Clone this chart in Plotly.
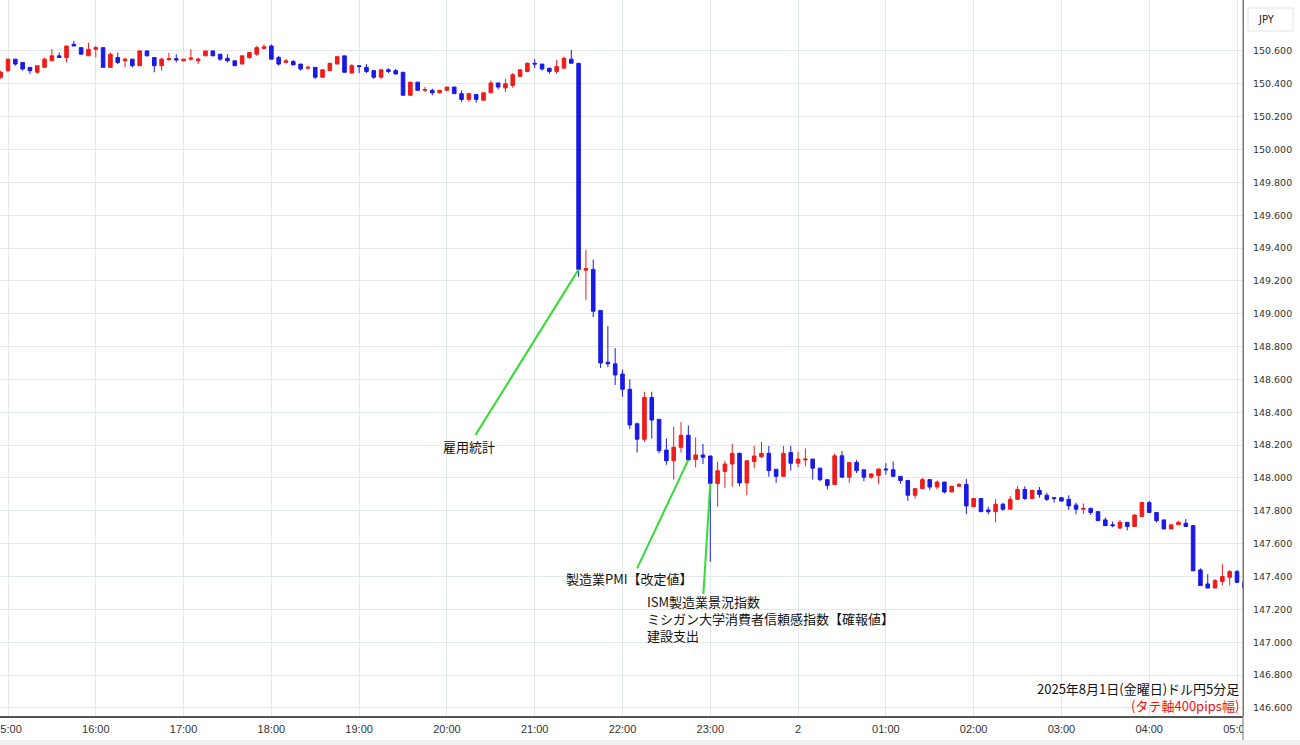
import pandas as pd
import plotly.graph_objects as go

# ---------------- data (USD/JPY 5-minute candles) ----------------
start_time = "2025-08-01 14:55"
open_ = [150.44, 150.48, 150.55, 150.53, 150.50, 150.47, 150.50, 150.54, 150.57, 150.56,
         150.64, 150.62, 150.57, 150.61, 150.62, 150.50, 150.56, 150.54, 150.55, 150.51,
         150.60, 150.56, 150.51, 150.547, 150.553, 150.54, 150.55, 150.54, 150.57, 150.60,
         150.58, 150.555, 150.54, 150.52, 150.56, 150.58, 150.615, 150.63, 150.56, 150.53,
         150.535, 150.52, 150.495, 150.50, 150.44, 150.48, 150.52, 150.57, 150.465, 150.51,
         150.50, 150.48, 150.44, 150.485, 150.48, 150.47, 150.33, 150.41, 150.36, 150.36,
         150.345, 150.36, 150.38, 150.34, 150.305, 150.335, 150.30, 150.345, 150.405, 150.375,
         150.39, 150.445, 150.475, 150.525, 150.52, 150.495, 150.475, 150.495, 150.55, 150.525,
         149.265, 149.27, 149.02, 148.705, 148.695, 148.633, 148.54, 148.33, 148.236, 148.49,
         148.357, 148.17, 148.105, 148.187, 148.26, 148.113, 148.14, 148.134, 147.967, 148.04,
         148.085, 148.15, 147.97, 148.10, 148.13, 148.15, 148.053, 148.01, 148.155, 148.09,
         148.11, 148.115, 148.06, 147.99, 147.96, 148.135, 148.005, 148.095, 148.05, 148.005,
         148.015, 148.055, 148.05, 148.01, 147.985, 147.895, 147.935, 147.99, 147.945, 147.975,
         147.915, 147.95, 147.96, 147.825, 147.875, 147.805, 147.795, 147.84, 147.81, 147.87,
         147.93, 147.875, 147.925, 147.895, 147.88, 147.88, 147.87, 147.835, 147.81, 147.815,
         147.795, 147.745, 147.715, 147.695, 147.73, 147.705, 147.765, 147.85, 147.79, 147.745,
         147.69, 147.715, 147.725, 147.71, 147.44, 147.355, 147.33, 147.37, 147.395, 147.43,
         147.365]
high = [150.48, 150.55, 150.55, 150.53, 150.50, 150.51, 150.56, 150.61, 150.59, 150.63,
        150.66, 150.62, 150.65, 150.63, 150.62, 150.59, 150.59, 150.56, 150.55, 150.60,
        150.60, 150.56, 150.56, 150.59, 150.58, 150.55, 150.61, 150.56, 150.60, 150.60,
        150.58, 150.58, 150.54, 150.57, 150.59, 150.63, 150.64, 150.64, 150.57, 150.55,
        150.545, 150.52, 150.51, 150.50, 150.485, 150.525, 150.565, 150.57, 150.52, 150.51,
        150.52, 150.48, 150.49, 150.495, 150.49, 150.47, 150.41, 150.41, 150.38, 150.37,
        150.36, 150.38, 150.38, 150.36, 150.34, 150.335, 150.345, 150.42, 150.405, 150.43,
        150.465, 150.485, 150.53, 150.55, 150.52, 150.495, 150.545, 150.565, 150.605, 150.525,
        149.39, 149.33, 149.02, 148.925, 148.79, 148.66, 148.60, 148.337, 148.525, 148.525,
        148.357, 148.24, 148.313, 148.34, 148.32, 148.247, 148.207, 148.134, 148.10, 148.105,
        148.207, 148.155, 148.105, 148.195, 148.22, 148.195, 148.053, 148.195, 148.195, 148.16,
        148.18, 148.115, 148.06, 147.99, 148.15, 148.165, 148.095, 148.11, 148.05, 148.03,
        148.055, 148.09, 148.10, 148.01, 147.985, 147.935, 148.00, 147.99, 147.985, 147.975,
        147.95, 147.97, 147.995, 147.875, 147.875, 147.825, 147.87, 147.85, 147.89, 147.95,
        147.95, 147.925, 147.945, 147.91, 147.885, 147.885, 147.895, 147.85, 147.845, 147.82,
        147.795, 147.76, 147.735, 147.745, 147.73, 147.775, 147.855, 147.86, 147.79, 147.745,
        147.715, 147.74, 147.75, 147.71, 147.45, 147.415, 147.385, 147.475, 147.44, 147.44,
        147.365]
low = [150.43, 150.47, 150.51, 150.48, 150.46, 150.46, 150.50, 150.54, 150.56, 150.53,
       150.63, 150.58, 150.57, 150.56, 150.50, 150.50, 150.52, 150.50, 150.50, 150.51,
       150.57, 150.47, 150.48, 150.54, 150.53, 150.535, 150.54, 150.52, 150.57, 150.57,
       150.54, 150.53, 150.51, 150.52, 150.55, 150.57, 150.61, 150.55, 150.51, 150.525,
       150.515, 150.48, 150.485, 150.43, 150.44, 150.48, 150.52, 150.47, 150.465, 150.465,
       150.465, 150.43, 150.43, 150.465, 150.455, 150.33, 150.33, 150.36, 150.35, 150.33,
       150.34, 150.36, 150.34, 150.29, 150.29, 150.285, 150.30, 150.345, 150.365, 150.35,
       150.375, 150.445, 150.47, 150.495, 150.48, 150.46, 150.46, 150.495, 150.525, 149.225,
       149.085, 148.98, 148.67, 148.675, 148.566, 148.495, 148.297, 148.155, 148.22, 148.24,
       148.15, 148.08, 147.99, 148.155, 148.11, 148.065, 148.085, 147.49, 147.825, 147.94,
       147.947, 147.95, 147.895, 148.06, 148.12, 148.008, 147.97, 148.01, 148.045, 148.065,
       148.07, 147.99, 147.98, 147.93, 147.96, 148.005, 147.97, 148.03, 147.98, 147.995,
       147.965, 148.02, 148.01, 147.965, 147.86, 147.875, 147.935, 147.925, 147.93, 147.905,
       147.915, 147.945, 147.78, 147.825, 147.795, 147.78, 147.73, 147.80, 147.81, 147.87,
       147.865, 147.875, 147.88, 147.86, 147.85, 147.855, 147.805, 147.78, 147.78, 147.775,
       147.74, 147.71, 147.70, 147.69, 147.68, 147.705, 147.765, 147.79, 147.73, 147.69,
       147.69, 147.715, 147.705, 147.435, 147.345, 147.33, 147.33, 147.345, 147.345, 147.36,
       147.33]
close = [150.47, 150.55, 150.52, 150.49, 150.48, 150.51, 150.55, 150.57, 150.56, 150.63,
         150.63, 150.58, 150.61, 150.62, 150.50, 150.58, 150.53, 150.55, 150.51, 150.60,
         150.57, 150.51, 150.55, 150.553, 150.545, 150.55, 150.556, 150.55, 150.60, 150.57,
         150.55, 150.54, 150.51, 150.57, 150.59, 150.62, 150.625, 150.55, 150.52, 150.54,
         150.515, 150.49, 150.50, 150.44, 150.485, 150.525, 150.565, 150.47, 150.51, 150.505,
         150.475, 150.44, 150.485, 150.475, 150.46, 150.33, 150.41, 150.36, 150.365, 150.345,
         150.36, 150.38, 150.34, 150.305, 150.34, 150.305, 150.345, 150.405, 150.38, 150.40,
         150.455, 150.485, 150.525, 150.52, 150.49, 150.475, 150.505, 150.555, 150.525, 149.27,
         149.275, 149.015, 148.70, 148.695, 148.627, 148.54, 148.323, 148.236, 148.49, 148.353,
         148.166, 148.105, 148.187, 148.26, 148.11, 148.14, 148.126, 147.967, 148.044, 148.085,
         148.15, 147.97, 148.105, 148.134, 148.15, 148.045, 148.01, 148.15, 148.09, 148.115,
         148.115, 148.06, 147.99, 147.955, 148.135, 148.005, 148.095, 148.045, 148.005, 148.025,
         148.055, 148.05, 148.01, 147.985, 147.895, 147.935, 147.99, 147.945, 147.975, 147.915,
         147.95, 147.96, 147.83, 147.875, 147.795, 147.795, 147.84, 147.81, 147.87, 147.93,
         147.875, 147.925, 147.90, 147.87, 147.875, 147.86, 147.83, 147.81, 147.815, 147.79,
         147.74, 147.71, 147.71, 147.73, 147.705, 147.775, 147.85, 147.79, 147.74, 147.69,
         147.715, 147.73, 147.705, 147.435, 147.345, 147.33, 147.375, 147.40, 147.43, 147.365,
         147.33]

times = pd.date_range(start_time, periods=len(open_), freq="5min")

x_tick_times = pd.date_range("2025-08-01 15:00", "2025-08-02 05:00", freq="1h")
x_tick_text = ["15:00", "16:00", "17:00", "18:00", "19:00", "20:00", "21:00", "22:00",
               "23:00", "2", "01:00", "02:00", "03:00", "04:00", "05:00"]
y_tick_vals = [146.6, 146.8, 147.0, 147.2, 147.4, 147.6, 147.8, 148.0, 148.2, 148.4,
               148.6, 148.8, 149.0, 149.2, 149.4, 149.6, 149.8, 150.0, 150.2, 150.4, 150.6]

events = ["雇用統計", "製造業PMI【改定値】",
          "ISM製造業景況指数<br>ミシガン大学消費者信頼感指数【確報値】<br>建設支出"]
event_times = ["2025-08-01 21:30", "2025-08-01 22:45", "2025-08-01 23:00"]

title_text = "2025年8月1日(金曜日)ドル円5分足"
sub_text = "(タテ軸400pips幅)"
currency = "JPY"

# ---------------- figure ----------------
W, H = 1300, 745
PLOT_R = 1243   # plot area right edge (px)
PLOT_B = 716    # plot area bottom edge (px)

UP = "#ee1c1c"
DOWN = "#1a1ae6"
GREEN = "#33dd33"

fig = go.Figure(go.Candlestick(
    x=times, open=open_, high=high, low=low, close=close,
    increasing=dict(line=dict(color=UP, width=1), fillcolor=UP),
    decreasing=dict(line=dict(color=DOWN, width=1), fillcolor=DOWN),
    whiskerwidth=0, hoverinfo="skip",
))

fig.update_layout(
    width=W, height=H,
    margin=dict(l=0, r=W - PLOT_R, t=0, b=H - PLOT_B, pad=0, autoexpand=False),
    paper_bgcolor="white", plot_bgcolor="white",
    showlegend=False,
    font=dict(family="Noto Sans CJK JP", size=13, color="#111"),
    xaxis=dict(
        type="date",
        range=["2025-08-01 14:54:32", "2025-08-02 05:04:06"],
        rangeslider=dict(visible=False),
        tickvals=x_tick_times, ticktext=x_tick_text,
        showgrid=True, gridcolor="#e3e7ee", gridwidth=1,
        showline=True, linecolor="#555", linewidth=1.5,
        ticks="", ticklabelstandoff=2, ticklabeloverflow="allow", automargin=False,
        tickfont=dict(family="Liberation Sans Narrow, Liberation Sans", size=11, color="#333"),
        zeroline=False, fixedrange=True,
    ),
    yaxis=dict(
        side="right",
        range=[146.551, 150.910],
        tickvals=y_tick_vals, tickformat=".3f",
        showgrid=True, gridcolor="#e3e7ee", gridwidth=1,
        showline=True, linecolor="#777", linewidth=1,
        ticks="", ticklabelstandoff=7, ticklabeloverflow="allow", automargin=False,
        tickfont=dict(family="DejaVu Sans", size=9.5, color="#333"),
        zeroline=False, fixedrange=True,
    ),
)

# event markers: green leader line + label, offsets in pixels from the candle close
arrow_offsets = [(-104, 167), (-52, 110), (-7, 112)]
text_shifts = [(-110, -177, "center"), (-59, -119, "center"), (-65, -135, "left")]
for name, t, (ax, ay), (xs, ys, anchor) in zip(events, event_times, arrow_offsets, text_shifts):
    idx = list(times).index(pd.Timestamp(t))
    tx, ty = times[idx], close[idx]
    fig.add_annotation(x=tx, y=ty, text="", showarrow=True, arrowhead=0,
                       arrowwidth=2, arrowcolor=GREEN, ax=ax, ay=ay, standoff=0)
    fig.add_annotation(x=tx, y=ty, text=name, showarrow=False, xshift=xs, yshift=ys,
                       xanchor=anchor, align="left", yanchor="middle",
                       font=dict(size=13, color="#111", family="Noto Sans CJK JP"))

# caption bottom-right (two lines in one text block)
fig.add_annotation(xref="paper", yref="paper", x=1241 / PLOT_R, y=1 - 697 / PLOT_B,
                   text=title_text + "<br><span style='color:#ee1111'>" + sub_text + "</span>",
                   showarrow=False, xanchor="right", yanchor="middle", align="right",
                   font=dict(size=13, color="#111", family="Noto Sans CJK JP"))

# currency badge on price scale
fig.add_shape(type="rect", xref="paper", yref="paper",
              x0=1248 / PLOT_R, x1=1293 / PLOT_R, y0=1 - 31 / PLOT_B, y1=1 - 8 / PLOT_B,
              line=dict(color="#e0e3eb", width=1), fillcolor="white", layer="above")
fig.add_annotation(xref="paper", yref="paper", x=1266 / PLOT_R, y=1 - 19 / PLOT_B,
                   text=currency, showarrow=False, xanchor="center", yanchor="middle",
                   font=dict(size=10, color="#222", family="DejaVu Sans"))

# price-scale separator extends to the bottom, clip time label under price scale
fig.add_shape(type="rect", xref="paper", yref="paper",
              x0=1, x1=W / PLOT_R, y0=-(H - PLOT_B) / PLOT_B, y1=0,
              line=dict(width=0), fillcolor="white", layer="above")
fig.add_shape(type="line", xref="paper", yref="paper",
              x0=1, x1=1, y0=-(H - PLOT_B) / PLOT_B, y1=1,
              line=dict(color="#777", width=1), layer="above")
fig.add_shape(type="rect", xref="paper", yref="paper",
              x0=0, x1=W / PLOT_R, y0=-(H - PLOT_B) / PLOT_B, y1=-(H - PLOT_B - 5) / PLOT_B,
              line=dict(width=0), fillcolor="#f0f0f0", layer="above")

fig.write_html("out.html", config={"displayModeBar": False},
               post_script="document.body.style.margin='0px';")
